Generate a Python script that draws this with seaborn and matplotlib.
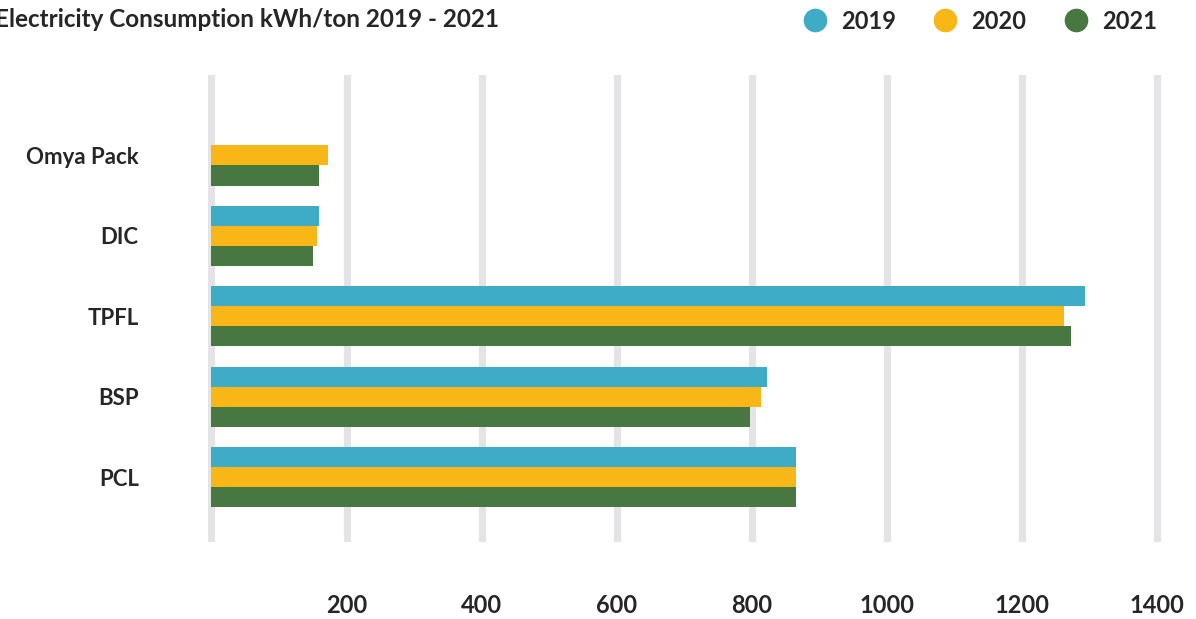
import pandas as pd
import seaborn as sns
import matplotlib.pyplot as plt
from matplotlib.lines import Line2D

companies = ['Omya Pack', 'DIC', 'TPFL', 'BSP', 'PCL']
years = ['2019', '2020', '2021']
kwh_2019 = [0, 159, 1294, 822, 865]
kwh_2020 = [172, 156, 1263, 813, 865]
kwh_2021 = [159, 150, 1273, 797, 865]
xticks = [200, 400, 600, 800, 1000, 1200, 1400]
colors = ['#3eabc7', '#f8b717', '#477841']

df = pd.DataFrame({'company': companies * 3,
                   'year': [y for y in years for _ in companies],
                   'kwh': kwh_2019 + kwh_2020 + kwh_2021})

sns.set_style('white')
plt.rcParams['font.family'] = ['Lato', 'DejaVu Sans']

fig = plt.figure(figsize=(11.96, 6.19), dpi=100)
ax = fig.add_axes([0.174, 0.125, 0.799, 0.754])

sns.barplot(data=df, y='company', x='kwh', hue='year', palette=colors,
            orient='h', width=0.75, saturation=1, linewidth=0, ax=ax, legend=False)

ax.set_xlim(-5, 1410)
ax.set_ylim(4.8, -1.0)
ax.set_xticks(xticks)
ax.set_xticklabels([str(t) for t in xticks], fontsize=17, fontweight='bold')
ax.set_yticks(range(len(companies)))
ax.set_yticklabels(companies, fontsize=16, fontweight='bold')
ax.tick_params(axis='x', length=0, pad=38)
ax.tick_params(axis='y', length=0, pad=50)
ax.set_xlabel('')
ax.set_ylabel('')

# vertical gridlines, including zero
for g in [0] + xticks:
    ax.axvline(g, color='#e4e4e6', lw=5.2, zorder=0)
sns.despine(left=True, bottom=True)

# title is deliberately clipped at the left edge, like the original
fig.text(-0.004, 0.968, 'Electricity Consumption kWh/ton 2019 - 2021',
         fontsize=17.5, fontweight='bold', va='center', ha='left')

handles = [Line2D([], [], marker='o', ls='', color=c, markersize=16) for c in colors]
fig.legend(handles, years, loc='center right', bbox_to_anchor=(0.985, 0.966),
           ncol=3, frameon=False, prop={'weight': 'bold', 'size': 17},
           handlelength=1, handletextpad=0.6, columnspacing=1.6)

fig.savefig('out.png', dpi=100)
